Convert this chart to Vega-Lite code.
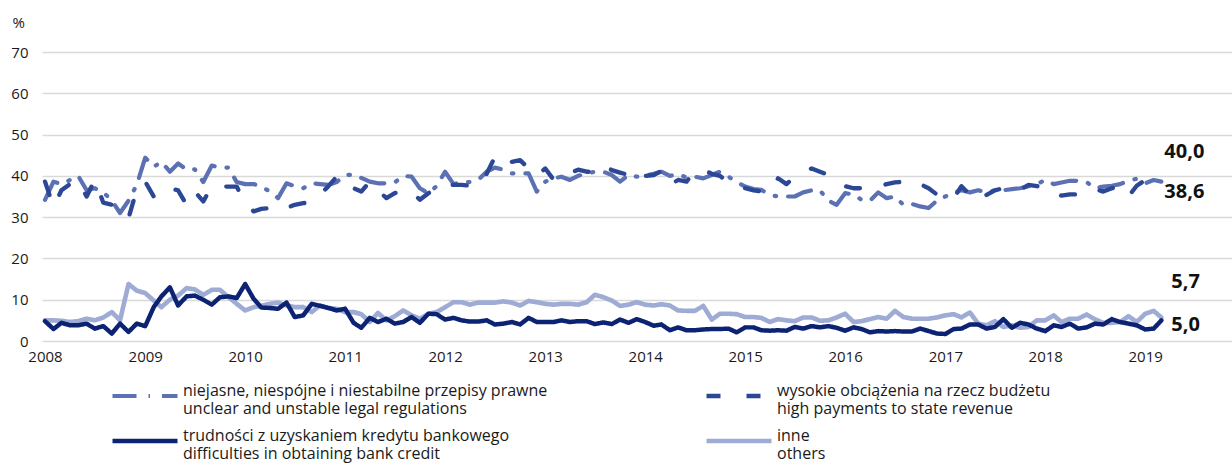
{
  "$schema": "https://vega.github.io/schema/vega-lite/v6.json",
  "autosize": {"type": "none"},
  "padding": {"left": 42, "top": 52, "right": 0, "bottom": 123},
  "width": 1190,
  "height": 289,
  "background": "white",
  "config": {
    "view": {"stroke": null},
    "font": "Open Sans",
    "locale": {"number": {"decimal": ",", "thousands": " ", "grouping": [3], "currency": ["", " zł"]}},
    "axis": {"labelFont": "Open Sans", "labelColor": "#1a1a1a", "labelFontSize": 15, "domain": false, "ticks": false},
    "legend": {
      "orient": "none", "legendX": 68, "legendY": 326, "direction": "horizontal", "columns": 2,
      "columnPadding": 156, "rowPadding": 6, "clipHeight": 36, "symbolType": "stroke", "symbolSize": 4225,
      "symbolStrokeWidth": 4, "labelFont": "Open Sans", "labelFontSize": 16, "labelColor": "#1a1a1a",
      "labelLimit": 0, "labelOffset": 3, "labelBaseline": "alphabetic", "title": null
    }
  },
  "data": {
    "values": [
      {"m":"2008-01","n":34.2,"w":38.6,"t":4.8,"i":5.0},
      {"m":"2008-02","n":38.6,"w":32.5,"t":2.9,"i":5.0},
      {"m":"2008-03","n":38.0,"w":36.5,"t":4.4,"i":4.9},
      {"m":"2008-04","n":39.0,"w":38.0,"t":3.8,"i":4.6},
      {"m":"2008-05","n":40.0,"w":39.0,"t":3.8,"i":4.8},
      {"m":"2008-06","n":36.5,"w":35.0,"t":4.2,"i":5.4},
      {"m":"2008-07","n":37.0,"w":39.0,"t":3.0,"i":5.0},
      {"m":"2008-08","n":36.0,"w":33.5,"t":3.6,"i":5.7},
      {"m":"2008-09","n":34.0,"w":33.0,"t":1.8,"i":7.0},
      {"m":"2008-10","n":31.0,"w":32.0,"t":4.2,"i":5.0},
      {"m":"2008-11","n":34.0,"w":29.8,"t":2.2,"i":13.8},
      {"m":"2008-12","n":37.8,"w":36.6,"t":4.2,"i":12.2},
      {"m":"2009-01","n":44.4,"w":38.6,"t":3.6,"i":11.6},
      {"m":"2009-02","n":42.2,"w":35.0,"t":8.2,"i":9.8},
      {"m":"2009-03","n":43.4,"w":37.0,"t":10.8,"i":8.2},
      {"m":"2009-04","n":41.0,"w":37.0,"t":13.0,"i":10.0},
      {"m":"2009-05","n":43.0,"w":36.5,"t":8.6,"i":11.0},
      {"m":"2009-06","n":41.5,"w":33.0,"t":10.8,"i":12.8},
      {"m":"2009-07","n":41.6,"w":36.2,"t":11.0,"i":12.5},
      {"m":"2009-08","n":38.5,"w":33.8,"t":10.0,"i":11.2},
      {"m":"2009-09","n":42.5,"w":37.5,"t":8.8,"i":12.4},
      {"m":"2009-10","n":42.0,"w":37.4,"t":10.6,"i":12.4},
      {"m":"2009-11","n":42.0,"w":37.4,"t":10.8,"i":10.6},
      {"m":"2009-12","n":38.5,"w":37.4,"t":10.4,"i":9.0},
      {"m":"2010-01","n":38.0,"w":33.4,"t":13.8,"i":7.4},
      {"m":"2010-02","n":38.0,"w":31.4,"t":10.2,"i":8.2},
      {"m":"2010-03","n":37.4,"w":32.0,"t":8.1,"i":8.5},
      {"m":"2010-04","n":36.2,"w":32.2,"t":8.0,"i":9.0},
      {"m":"2010-05","n":34.6,"w":31.4,"t":7.8,"i":9.3},
      {"m":"2010-06","n":38.2,"w":32.2,"t":9.3,"i":8.6},
      {"m":"2010-07","n":37.5,"w":33.0,"t":5.8,"i":8.2},
      {"m":"2010-08","n":37.0,"w":33.4,"t":6.2,"i":8.2},
      {"m":"2010-09","n":38.2,"w":33.6,"t":9.0,"i":7.0},
      {"m":"2010-10","n":38.0,"w":35.4,"t":8.5,"i":8.6},
      {"m":"2010-11","n":37.8,"w":37.5,"t":8.0,"i":8.0},
      {"m":"2010-12","n":38.5,"w":39.8,"t":7.4,"i":7.8},
      {"m":"2011-01","n":40.2,"w":37.5,"t":7.8,"i":7.0},
      {"m":"2011-02","n":40.3,"w":37.0,"t":4.4,"i":7.0},
      {"m":"2011-03","n":39.5,"w":36.2,"t":3.2,"i":6.5},
      {"m":"2011-04","n":38.6,"w":38.6,"t":5.6,"i":4.6},
      {"m":"2011-05","n":38.2,"w":36.5,"t":4.6,"i":6.8},
      {"m":"2011-06","n":38.2,"w":34.6,"t":5.4,"i":5.0},
      {"m":"2011-07","n":38.4,"w":35.8,"t":4.2,"i":6.0},
      {"m":"2011-08","n":40.0,"w":36.6,"t":4.6,"i":7.4},
      {"m":"2011-09","n":39.8,"w":36.2,"t":5.8,"i":6.2},
      {"m":"2011-10","n":37.0,"w":34.2,"t":4.4,"i":5.4},
      {"m":"2011-11","n":35.8,"w":35.8,"t":6.6,"i":6.6},
      {"m":"2011-12","n":37.5,"w":37.0,"t":6.5,"i":7.0},
      {"m":"2012-01","n":41.0,"w":38.0,"t":5.2,"i":8.2},
      {"m":"2012-02","n":38.0,"w":37.8,"t":5.6,"i":9.4},
      {"m":"2012-03","n":38.5,"w":37.8,"t":5.0,"i":9.4},
      {"m":"2012-04","n":38.5,"w":37.6,"t":4.7,"i":8.8},
      {"m":"2012-05","n":39.0,"w":37.6,"t":4.7,"i":9.3},
      {"m":"2012-06","n":41.0,"w":40.5,"t":5.0,"i":9.3},
      {"m":"2012-07","n":42.0,"w":44.6,"t":4.0,"i":9.3},
      {"m":"2012-08","n":41.5,"w":42.6,"t":4.2,"i":9.6},
      {"m":"2012-09","n":40.6,"w":43.4,"t":4.6,"i":9.3},
      {"m":"2012-10","n":40.6,"w":43.8,"t":4.0,"i":8.6},
      {"m":"2012-11","n":40.6,"w":41.8,"t":5.6,"i":9.7},
      {"m":"2012-12","n":36.2,"w":40.0,"t":4.6,"i":9.4},
      {"m":"2013-01","n":38.6,"w":41.8,"t":4.6,"i":9.0},
      {"m":"2013-02","n":39.4,"w":39.0,"t":4.6,"i":8.8},
      {"m":"2013-03","n":39.8,"w":40.0,"t":5.0,"i":9.0},
      {"m":"2013-04","n":39.0,"w":40.6,"t":4.6,"i":9.0},
      {"m":"2013-05","n":40.0,"w":41.5,"t":4.8,"i":8.8},
      {"m":"2013-06","n":40.6,"w":41.0,"t":4.8,"i":9.4},
      {"m":"2013-07","n":41.0,"w":41.0,"t":4.1,"i":11.2},
      {"m":"2013-08","n":41.0,"w":42.6,"t":4.5,"i":10.6},
      {"m":"2013-09","n":40.2,"w":41.4,"t":4.1,"i":9.8},
      {"m":"2013-10","n":38.6,"w":40.8,"t":5.2,"i":8.5},
      {"m":"2013-11","n":40.2,"w":40.2,"t":4.4,"i":8.8},
      {"m":"2013-12","n":39.8,"w":38.6,"t":5.3,"i":9.4},
      {"m":"2014-01","n":40.0,"w":40.0,"t":4.6,"i":8.8},
      {"m":"2014-02","n":40.5,"w":40.2,"t":3.7,"i":8.6},
      {"m":"2014-03","n":41.0,"w":41.2,"t":4.0,"i":8.9},
      {"m":"2014-04","n":40.0,"w":37.8,"t":2.6,"i":8.6},
      {"m":"2014-05","n":40.4,"w":39.0,"t":3.3,"i":7.4},
      {"m":"2014-06","n":39.6,"w":38.6,"t":2.6,"i":7.3},
      {"m":"2014-07","n":39.8,"w":41.3,"t":2.6,"i":7.3},
      {"m":"2014-08","n":39.4,"w":41.5,"t":2.8,"i":8.5},
      {"m":"2014-09","n":40.2,"w":40.5,"t":2.9,"i":5.2},
      {"m":"2014-10","n":41.0,"w":40.0,"t":2.9,"i":6.6},
      {"m":"2014-11","n":39.8,"w":38.4,"t":3.0,"i":6.6},
      {"m":"2014-12","n":38.5,"w":38.0,"t":2.1,"i":6.5},
      {"m":"2015-01","n":37.4,"w":37.0,"t":3.3,"i":5.8},
      {"m":"2015-02","n":36.8,"w":36.5,"t":3.3,"i":5.8},
      {"m":"2015-03","n":36.6,"w":36.2,"t":2.6,"i":5.6},
      {"m":"2015-04","n":35.4,"w":36.2,"t":2.5,"i":4.6},
      {"m":"2015-05","n":35.0,"w":39.4,"t":2.6,"i":5.3},
      {"m":"2015-06","n":35.0,"w":38.0,"t":2.5,"i":5.0},
      {"m":"2015-07","n":35.0,"w":39.8,"t":3.4,"i":4.8},
      {"m":"2015-08","n":36.0,"w":41.0,"t":3.0,"i":5.7},
      {"m":"2015-09","n":36.5,"w":41.8,"t":3.6,"i":5.7},
      {"m":"2015-10","n":36.5,"w":41.0,"t":3.3,"i":4.9},
      {"m":"2015-11","n":34.0,"w":40.2,"t":3.6,"i":5.0},
      {"m":"2015-12","n":33.0,"w":38.6,"t":3.2,"i":5.7},
      {"m":"2016-01","n":35.8,"w":37.5,"t":2.5,"i":6.6},
      {"m":"2016-02","n":35.5,"w":37.0,"t":3.3,"i":4.6},
      {"m":"2016-03","n":34.2,"w":37.0,"t":2.9,"i":4.8},
      {"m":"2016-04","n":34.0,"w":37.0,"t":2.1,"i":5.3},
      {"m":"2016-05","n":36.0,"w":37.5,"t":2.4,"i":5.8},
      {"m":"2016-06","n":34.6,"w":38.0,"t":2.3,"i":5.4},
      {"m":"2016-07","n":35.0,"w":38.4,"t":2.4,"i":7.3},
      {"m":"2016-08","n":33.0,"w":38.6,"t":2.3,"i":5.8},
      {"m":"2016-09","n":33.2,"w":39.0,"t":2.3,"i":5.4},
      {"m":"2016-10","n":32.6,"w":38.0,"t":3.0,"i":5.4},
      {"m":"2016-11","n":32.2,"w":37.0,"t":2.4,"i":5.4},
      {"m":"2016-12","n":34.0,"w":35.5,"t":1.8,"i":5.7},
      {"m":"2017-01","n":35.0,"w":34.6,"t":1.7,"i":6.2},
      {"m":"2017-02","n":36.0,"w":34.6,"t":2.9,"i":6.5},
      {"m":"2017-03","n":36.5,"w":37.5,"t":3.0,"i":5.7},
      {"m":"2017-04","n":36.0,"w":35.4,"t":4.0,"i":6.9},
      {"m":"2017-05","n":36.5,"w":34.0,"t":4.0,"i":4.2},
      {"m":"2017-06","n":36.0,"w":35.4,"t":3.0,"i":3.8},
      {"m":"2017-07","n":36.5,"w":36.5,"t":3.4,"i":4.8},
      {"m":"2017-08","n":36.5,"w":37.0,"t":5.3,"i":3.4},
      {"m":"2017-09","n":36.8,"w":37.0,"t":3.2,"i":3.8},
      {"m":"2017-10","n":37.0,"w":36.6,"t":4.4,"i":3.2},
      {"m":"2017-11","n":37.5,"w":37.8,"t":4.0,"i":3.4},
      {"m":"2017-12","n":38.0,"w":37.5,"t":3.0,"i":5.0},
      {"m":"2018-01","n":39.0,"w":37.4,"t":2.4,"i":5.0},
      {"m":"2018-02","n":38.0,"w":36.2,"t":3.8,"i":6.2},
      {"m":"2018-03","n":38.4,"w":35.2,"t":3.4,"i":4.6},
      {"m":"2018-04","n":38.8,"w":35.5,"t":4.2,"i":5.4},
      {"m":"2018-05","n":38.8,"w":35.5,"t":3.0,"i":5.4},
      {"m":"2018-06","n":38.5,"w":36.6,"t":3.3,"i":6.4},
      {"m":"2018-07","n":37.0,"w":36.8,"t":4.2,"i":5.3},
      {"m":"2018-08","n":37.4,"w":36.2,"t":4.0,"i":4.4},
      {"m":"2018-09","n":37.6,"w":37.0,"t":5.3,"i":4.4},
      {"m":"2018-10","n":38.0,"w":37.4,"t":4.6,"i":4.6},
      {"m":"2018-11","n":38.8,"w":35.0,"t":4.2,"i":6.0},
      {"m":"2018-12","n":39.3,"w":37.6,"t":3.8,"i":4.6},
      {"m":"2019-01","n":38.2,"w":39.0,"t":2.8,"i":6.6},
      {"m":"2019-02","n":39.0,"w":39.4,"t":3.0,"i":7.3},
      {"m":"2019-03","n":38.6,"w":40.0,"t":5.0,"i":5.7}
    ],
    "format": {"parse": {"m": "date:'%Y-%m'"}}
  },
  "transform": [{"fold": ["i", "t", "n", "w"], "as": ["key", "v"]}],
  "encoding": {
    "x": {
      "field": "m", "type": "temporal", "title": null,
      "scale": {"domain": [{"year": 2007, "month": 12, "date": 21}, {"year": 2019, "month": 11, "date": 14}]},
      "axis": {"format": "%Y", "tickCount": {"interval": "year", "step": 1}, "grid": false, "labelPadding": 8, "labelFlush": false, "labelOverlap": false}
    },
    "y": {
      "field": "v", "type": "quantitative",
      "scale": {"domain": [0, 70], "nice": false},
      "axis": {
        "values": [0, 10, 20, 30, 40, 50, 60, 70], "grid": true, "gridColor": "#d9d9d9", "gridWidth": 1.6,
        "labelPadding": 14, "title": "%", "titleAngle": 0, "titleAlign": "left", "titleBaseline": "middle",
        "titleX": -30, "titleY": -30, "titleFontWeight": "normal", "titleFontSize": 15, "titleFont": "Open Sans", "titleColor": "#1a1a1a"
      }
    }
  },
  "layer": [
    {
      "mark": {"type": "line", "strokeCap": "round", "strokeJoin": "round"},
      "encoding": {
        "color": {
          "field": "key", "type": "nominal",
          "scale": {"domain": ["n", "w", "t", "i"], "range": ["#5b71b3", "#2c4795", "#0c2273", "#9eabd4"]},
          "legend": {
            "labelExpr": "datum.label == 'n' ? ['niejasne, niespójne i niestabilne przepisy prawne', 'unclear and unstable legal regulations'] : datum.label == 'w' ? ['wysokie obciążenia na rzecz budżetu', 'high payments to state revenue'] : datum.label == 't' ? ['trudności z uzyskaniem kredytu bankowego', 'difficulties in obtaining bank credit'] : ['inne', 'others']"
          }
        },
        "strokeDash": {
          "field": "key", "type": "nominal",
          "scale": {"domain": ["n", "w", "t", "i"], "range": [[24, 12, 1.5, 12], [14, 26], [1, 0], [1, 0]]},
          "legend": {
            "labelExpr": "datum.label == 'n' ? ['niejasne, niespójne i niestabilne przepisy prawne', 'unclear and unstable legal regulations'] : datum.label == 'w' ? ['wysokie obciążenia na rzecz budżetu', 'high payments to state revenue'] : datum.label == 't' ? ['trudności z uzyskaniem kredytu bankowego', 'difficulties in obtaining bank credit'] : ['inne', 'others']"
          }
        },
        "strokeWidth": {
          "field": "key", "type": "nominal",
          "scale": {"domain": ["n", "w", "t", "i"], "range": [4.2, 4.6, 3.6, 3.6]},
          "legend": null
        },
        "order": {"field": "m", "type": "temporal"}
      }
    },
    {
      "transform": [{"filter": "datum.key == 'w' && year(datum.m) == 2019 && month(datum.m) == 2"}],
      "mark": {"type": "text", "align": "left", "baseline": "middle", "dx": 3, "dy": -24, "fontSize": 20, "fontWeight": "bold", "font": "Open Sans", "color": "#111"},
      "encoding": {"text": {"field": "v", "type": "quantitative", "format": ".1f"}}
    },
    {
      "transform": [{"filter": "datum.key == 'n' && year(datum.m) == 2019 && month(datum.m) == 2"}],
      "mark": {"type": "text", "align": "left", "baseline": "middle", "dx": 3, "dy": 10, "fontSize": 20, "fontWeight": "bold", "font": "Open Sans", "color": "#111"},
      "encoding": {"text": {"field": "v", "type": "quantitative", "format": ".1f"}}
    },
    {
      "transform": [{"filter": "datum.key == 'i' && year(datum.m) == 2019 && month(datum.m) == 2"}],
      "mark": {"type": "text", "align": "left", "baseline": "middle", "dx": 10, "dy": -35, "fontSize": 20, "fontWeight": "bold", "font": "Open Sans", "color": "#111"},
      "encoding": {"text": {"field": "v", "type": "quantitative", "format": ".1f"}}
    },
    {
      "transform": [{"filter": "datum.key == 't' && year(datum.m) == 2019 && month(datum.m) == 2"}],
      "mark": {"type": "text", "align": "left", "baseline": "middle", "dx": 10, "dy": 5, "fontSize": 20, "fontWeight": "bold", "font": "Open Sans", "color": "#111"},
      "encoding": {"text": {"field": "v", "type": "quantitative", "format": ".1f"}}
    }
  ]
}
